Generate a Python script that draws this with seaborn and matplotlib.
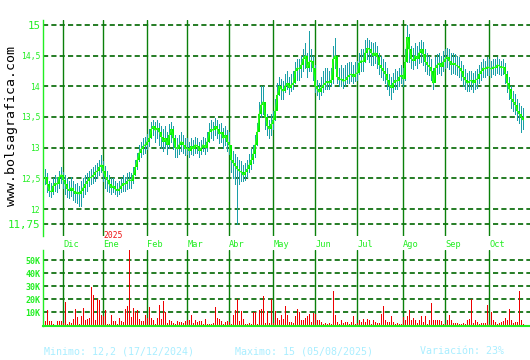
import matplotlib
matplotlib.use("Agg")
import matplotlib.pyplot as plt
import matplotlib.transforms as mtransforms
import seaborn as sns
import numpy as np
import pandas as pd

sns.set_theme(style="white")
plt.rcParams['font.family'] = ['DejaVu Sans Mono', 'DejaVu Sans']

# ---------------- data ----------------
close = [
    12.52, 12.40, 12.30, 12.28, 12.38, 12.42, 12.40, 12.52, 12.56, 12.48,
    12.40, 12.33, 12.30, 12.35, 12.30, 12.25, 12.28, 12.24, 12.30, 12.35,
    12.40, 12.45, 12.50, 12.52, 12.55, 12.60, 12.62, 12.68, 12.72, 12.62,
    12.52, 12.48, 12.40, 12.35, 12.38, 12.32, 12.30, 12.33, 12.38, 12.42,
    12.40, 12.45, 12.48, 12.46, 12.55, 12.68, 12.80, 12.92, 12.98, 13.02,
    13.05, 13.10, 13.15, 13.30, 13.35, 13.28, 13.32, 13.25, 13.18, 13.10,
    13.15, 13.05, 13.20, 13.30, 13.15, 13.00, 12.98, 13.05, 13.10, 13.05,
    12.98, 13.00, 12.95, 13.02, 12.98, 13.05, 13.02, 12.95, 13.00, 13.05,
    13.00, 13.10, 13.25, 13.30, 13.28, 13.35, 13.30, 13.22, 13.25, 13.15,
    13.20, 13.10, 13.05, 12.80, 12.75, 12.70, 12.65, 12.62, 12.60, 12.55,
    12.60, 12.65, 12.72, 12.80, 12.90, 13.05, 13.25, 13.55, 13.70, 13.75,
    13.50, 13.35, 13.30, 13.38, 13.45, 13.60, 13.85, 14.00, 13.95, 13.92,
    14.00, 14.05, 13.98, 14.02, 14.05, 14.25, 14.30, 14.28, 14.35, 14.45,
    14.50, 14.30, 14.40, 14.42, 14.30, 14.00, 13.95, 13.90, 13.98, 14.02,
    14.05, 14.08, 14.05, 14.10, 14.45, 14.50, 14.15, 14.10, 14.12, 14.08,
    14.10, 14.15, 14.18, 14.20, 14.15, 14.20, 14.22, 14.38, 14.42, 14.40,
    14.55, 14.62, 14.60, 14.55, 14.50, 14.55, 14.48, 14.35, 14.30, 14.25,
    14.20, 14.10, 14.02, 13.98, 14.05, 14.10, 14.08, 14.15, 14.18, 14.12,
    14.40, 14.80, 14.60, 14.45, 14.42, 14.50, 14.45, 14.55, 14.60, 14.52,
    14.40, 14.35, 14.32, 14.25, 14.05, 14.30, 14.35, 14.38, 14.32, 14.40,
    14.45, 14.48, 14.42, 14.35, 14.38, 14.35, 14.33, 14.30, 14.25, 14.15,
    14.10, 14.05, 14.08, 14.10, 14.05, 14.10, 14.12, 14.20, 14.25, 14.30,
    14.28, 14.32, 14.30, 14.28, 14.32, 14.30, 14.35, 14.33, 14.30, 14.32,
    14.20, 14.05, 13.95, 13.80, 13.75, 13.70, 13.60, 13.55, 13.50, 13.45,
]
high = [
    12.65, 12.58, 12.45, 12.42, 12.50, 12.55, 12.52, 12.62, 12.68, 12.60,
    12.55, 12.50, 12.45, 12.52, 12.45, 12.40, 12.42, 12.38, 12.45, 12.50,
    12.55, 12.58, 12.62, 12.65, 12.68, 12.72, 12.75, 12.80, 12.88, 12.78,
    12.70, 12.62, 12.55, 12.50, 12.50, 12.45, 12.42, 12.45, 12.50, 12.55,
    12.52, 12.58, 12.60, 12.58, 12.68, 12.80, 12.92, 13.05, 13.10, 13.15,
    13.18, 13.22, 13.30, 13.42, 13.45, 13.42, 13.45, 13.40, 13.35, 13.30,
    13.35, 13.25, 13.38, 13.42, 13.35, 13.20, 13.15, 13.20, 13.25, 13.20,
    13.15, 13.15, 13.10, 13.15, 13.12, 13.18, 13.15, 13.10, 13.12, 13.18,
    13.15, 13.25, 13.40, 13.45, 13.42, 13.48, 13.45, 13.38, 13.40, 13.32,
    13.35, 13.28, 13.25, 13.05, 12.95, 12.90, 12.85, 12.80, 12.78, 12.72,
    12.75, 12.80, 12.90, 12.98, 13.05, 13.20, 13.40, 13.75, 14.00, 14.00,
    13.75, 13.55, 13.45, 13.55, 13.60, 13.80, 14.05, 14.15, 14.12, 14.08,
    14.20, 14.25, 14.15, 14.20, 14.25, 14.40, 14.45, 14.45, 14.50, 14.60,
    14.70, 14.55, 14.90, 14.60, 14.50, 14.35, 14.10, 14.05, 14.15, 14.25,
    14.30, 14.30, 14.25, 14.30, 14.65, 14.78, 14.40, 14.30, 14.35, 14.30,
    14.35, 14.38, 14.40, 14.40, 14.35, 14.40, 14.42, 14.55, 14.60, 14.60,
    14.75, 14.78, 14.75, 14.72, 14.70, 14.72, 14.65, 14.55, 14.50, 14.45,
    14.40, 14.30, 14.20, 14.15, 14.22, 14.28, 14.25, 14.30, 14.35, 14.30,
    14.60, 15.00, 14.85, 14.65, 14.62, 14.70, 14.65, 14.72, 14.75, 14.72,
    14.60, 14.55, 14.50, 14.45, 14.30, 14.48, 14.52, 14.55, 14.50, 14.58,
    14.60, 14.62, 14.60, 14.55, 14.55, 14.52, 14.50, 14.48, 14.42, 14.35,
    14.28, 14.22, 14.25, 14.25, 14.22, 14.25, 14.28, 14.35, 14.40, 14.45,
    14.42, 14.48, 14.45, 14.42, 14.45, 14.45, 14.48, 14.45, 14.42, 14.45,
    14.38, 14.25, 14.15, 14.00, 13.92, 13.88, 13.80, 13.72, 13.68, 13.65,
]
low = [
    12.40, 12.28, 12.22, 12.20, 12.25, 12.30, 12.28, 12.35, 12.42, 12.35,
    12.25, 12.20, 12.18, 12.22, 12.15, 12.12, 12.10, 12.05, 12.05, 12.20,
    12.25, 12.30, 12.38, 12.40, 12.42, 12.45, 12.50, 12.55, 12.60, 12.45,
    12.35, 12.30, 12.28, 12.25, 12.28, 12.25, 12.22, 12.25, 12.28, 12.30,
    12.30, 12.32, 12.35, 12.35, 12.42, 12.55, 12.65, 12.78, 12.85, 12.90,
    12.92, 12.98, 13.02, 13.15, 13.20, 13.10, 13.15, 13.05, 13.00, 12.95,
    13.00, 12.90, 13.00, 13.10, 12.98, 12.85, 12.85, 12.90, 12.95, 12.92,
    12.88, 12.90, 12.85, 12.90, 12.88, 12.92, 12.92, 12.85, 12.90, 12.95,
    12.90, 12.95, 13.10, 13.15, 13.12, 13.20, 13.15, 13.08, 13.10, 13.00,
    13.05, 12.95, 12.90, 12.60, 12.50, 12.40, 11.75, 12.40, 12.45, 12.45,
    12.48, 12.52, 12.60, 12.65, 12.75, 12.85, 13.05, 13.30, 13.50, 13.55,
    13.30, 13.20, 13.15, 13.20, 13.30, 13.45, 13.70, 13.85, 13.80, 13.80,
    13.90, 13.95, 13.88, 13.92, 13.95, 14.05, 14.10, 14.10, 14.15, 14.25,
    14.30, 14.15, 14.25, 14.25, 14.10, 13.90, 13.85, 13.80, 13.85, 13.90,
    13.95, 13.95, 13.95, 14.00, 14.05, 14.30, 14.05, 14.00, 14.00, 13.98,
    14.00, 14.05, 14.05, 14.08, 14.05, 14.08, 14.10, 14.20, 14.25, 14.25,
    14.40, 14.45, 14.40, 14.35, 14.35, 14.38, 14.30, 14.20, 14.15, 14.10,
    14.05, 13.95, 13.85, 13.80, 13.90, 13.95, 13.95, 14.00, 14.05, 14.00,
    14.10, 14.40, 14.40, 14.30, 14.28, 14.35, 14.30, 14.38, 14.40, 14.35,
    14.25, 14.20, 14.18, 14.10, 13.95, 14.10, 14.20, 14.22, 14.18, 14.25,
    14.30, 14.32, 14.28, 14.20, 14.22, 14.20, 14.18, 14.15, 14.10, 14.00,
    13.95, 13.92, 13.92, 13.95, 13.90, 13.95, 13.98, 14.05, 14.10, 14.15,
    14.15, 14.18, 14.18, 14.15, 14.20, 14.18, 14.22, 14.20, 14.18, 14.20,
    14.05, 13.90, 13.80, 13.65, 13.60, 13.55, 13.45, 13.40, 13.25, 13.30,
]
volume_k = [
    3.3, 11.8, 3.3, 3.3, 1.5, 0.5, 3.3, 3.3, 3.3, 2.0,
    18.0, 1.5, 3.0, 2.0, 5.0, 12.8, 6.5, 1.5, 7.0, 13.5,
    4.0, 5.0, 5.5, 29.5, 23.5, 4.0, 20.5, 19.5, 8.0, 7.0,
    12.0, 1.5, 1.5, 8.0, 3.3, 3.3, 1.0, 5.5, 3.5, 3.0,
    12.8, 15.0, 58.0, 6.5, 13.5, 10.0, 12.0, 5.0, 3.5, 3.5,
    8.0, 5.5, 14.0, 5.5, 4.0, 1.5, 5.5, 16.0, 5.0, 19.0,
    10.0, 2.0, 4.0, 3.5, 2.0, 1.0, 3.3, 3.0, 3.0, 2.0,
    3.3, 4.0, 4.0, 8.0, 2.0, 4.0, 3.0, 3.3, 3.3, 1.5,
    5.0, 1.5, 1.5, 1.0, 2.0, 14.5, 5.5, 5.0, 3.5, 1.0,
    3.0, 3.3, 3.0, 1.5, 8.0, 12.0, 20.0, 3.5, 11.0, 5.0,
    1.5, 1.5, 2.0, 1.0, 10.0, 10.0, 1.0, 12.0, 12.5, 22.5,
    2.0, 11.5, 2.0, 20.0, 2.0, 11.0, 6.0, 4.0, 8.0, 5.0,
    15.0, 8.0, 3.0, 3.0, 2.0, 7.0, 12.5, 10.0, 4.0, 4.0,
    6.0, 7.5, 9.0, 3.0, 9.5, 8.5, 4.0, 4.0, 2.5, 1.5,
    2.0, 1.5, 2.0, 1.5, 26.5, 8.0, 3.0, 1.5, 4.0, 2.0,
    3.0, 2.5, 1.5, 3.0, 7.0, 1.5, 2.0, 4.0, 3.0, 5.0,
    3.0, 5.0, 4.0, 1.5, 4.0, 3.0, 2.0, 2.0, 9.0, 15.0,
    4.0, 2.5, 3.0, 7.0, 3.0, 1.5, 2.0, 1.5, 1.0, 6.5,
    4.5, 7.5, 12.0, 4.0, 6.0, 4.0, 2.0, 4.0, 7.0, 3.0,
    7.0, 1.0, 4.0, 17.5, 4.5, 4.5, 4.5, 4.0, 3.5, 1.5,
    1.0, 4.5, 8.0, 4.0, 2.0, 2.0, 2.0, 1.5, 1.5, 2.0,
    1.5, 4.0, 5.0, 20.0, 2.0, 4.0, 3.0, 1.5, 2.0, 2.0,
    2.0, 15.5, 1.5, 10.0, 4.5, 3.0, 1.5, 2.0, 3.0, 3.5,
    6.0, 4.0, 12.5, 4.0, 2.0, 3.0, 3.0, 26.5, 4.0, 1.5,
]
month_labels = ["Dic", "Ene", "Feb", "Mar", "Abr", "May",
                "Jun", "Jul", "Ago", "Sep", "Oct"]
month_pos = [9, 29, 51, 71, 92, 114, 135, 156, 179, 200, 222]
price_ticks = [11.75, 12, 12.5, 13, 13.5, 14, 14.5, 15]
price_tick_labels = ["11,75", "12", "12,5", "13", "13,5", "14", "14,5", "15"]
vol_ticks = [10, 20, 30, 40, 50]
vol_tick_labels = ["10K", "20K", "30K", "40K", "50K"]
year_label = "2025"
min_text = "Minimo: 12,2 (17/12/2024)"
max_text = "Maximo: 15 (05/08/2025)"
var_text = "Variación: 23%"
watermark = "www.bolsagrafica.com"

# ---------------- derived frame ----------------
df = pd.DataFrame({"close": close, "high": high, "low": low, "vol": volume_k})
df["idx"] = np.arange(len(df))
df["open"] = df["close"].shift(1).fillna(df["close"].iloc[0])

# ---------------- colours ----------------
BRIGHT = "#22ee22"
HGRID = "#006600"
VGRID = "#0a800a"
WICK = "#1a9fa8"
BODY = "#00ee00"
CLOSE_C = "#33ff22"
VOLC = "#ee0000"
TXT2 = "#aaeeff"

W, H = 530, 360
fig = plt.figure(figsize=(W / 100, H / 100), dpi=100)
fig.patch.set_facecolor("white")

xl = ((43 - 45.3) / 2, (530 - 45.3) / 2)

# main price axes
ax = fig.add_axes([43 / W, 1 - 236 / H, (W - 43) / W, 216 / H])
ax.set_facecolor("white")
ax.set_xlim(*xl)
ax.set_ylim(11.56, 15.08)

for p in price_ticks:
    ax.axhline(p, color=HGRID, lw=1.2, linestyle=(0, (3.1, 1.9)), zorder=1)
for m in month_pos:
    ax.axvline(m, color=VGRID, lw=1.0, zorder=1)

ax.vlines(df["idx"], df["low"], df["high"], color=WICK, lw=0.6,
          antialiased=False, zorder=2)
ax.bar(df["idx"], df["close"] - df["open"], bottom=df["open"], width=0.9,
       color=BODY, linewidth=0, antialiased=False, zorder=3)
sns.lineplot(data=df, x="idx", y="close", ax=ax, color=CLOSE_C, lw=0.75,
             zorder=4, legend=False)

ax.set_xlabel("")
ax.set_ylabel("")
ax.set_yticks(price_ticks)
ax.set_yticklabels(price_tick_labels)
for lab, t in zip(ax.get_yticklabels(), price_ticks):
    lab.set_color(BRIGHT)
    lab.set_fontsize(7.8 if t in (15, 11.75) else 5.8)
ax.tick_params(axis="y", length=0, pad=2)
ax.set_xticks(month_pos)
ax.set_xticklabels(month_labels)
for lab in ax.get_xticklabels():
    lab.set_color(BRIGHT)
    lab.set_fontsize(6.2)
    lab.set_horizontalalignment("left")
ax.tick_params(axis="x", length=0, pad=3)
for s in ["top", "right", "bottom"]:
    ax.spines[s].set_visible(False)
ax.spines["left"].set_color(BRIGHT)
ax.spines["left"].set_linewidth(1.0)

trans = mtransforms.blended_transform_factory(ax.transData, ax.transAxes)
ax.text(month_pos[1], 0.0, year_label, transform=trans, color="#ee1111",
        fontsize=5.8, ha="left", va="center")

# volume axes
axv = fig.add_axes([43 / W, 1 - 325.5 / H, (W - 43) / W, 75.5 / H])
axv.set_facecolor("white")
axv.set_xlim(*xl)
axv.set_ylim(0, 57.9)
for v in vol_ticks:
    axv.axhline(v, color=HGRID, lw=1.2, linestyle=(0, (3.1, 1.9)), zorder=1)
for m in month_pos:
    axv.axvline(m, color=VGRID, lw=1.0, zorder=1)
axv.vlines(df["idx"], 0, df["vol"], color=VOLC, lw=0.72,
           antialiased=False, zorder=2)
axv.set_xticks([])
axv.set_yticks(vol_ticks)
axv.set_yticklabels(vol_tick_labels)
for lab in axv.get_yticklabels():
    lab.set_color(BRIGHT)
    lab.set_fontsize(6.0)
    lab.set_fontweight("bold")
axv.tick_params(axis="y", length=0, pad=2)
for s in ["top", "right"]:
    axv.spines[s].set_visible(False)
axv.spines["left"].set_color(BRIGHT)
axv.spines["left"].set_linewidth(1.0)
axv.spines["bottom"].set_color(BRIGHT)
axv.spines["bottom"].set_linewidth(1.5)
axv.spines["bottom"].set_zorder(3)

# texts
fig.text(44 / W, 1 - 351 / H, min_text, color=TXT2, fontsize=7.2,
         ha="left", va="center")
fig.text(235 / W, 1 - 351 / H, max_text, color=TXT2, fontsize=7.2,
         ha="left", va="center")
fig.text(420 / W, 1 - 351 / H, var_text, color=TXT2, fontsize=7.2,
         ha="left", va="center")
fig.text(12 / W, 1 - 126 / H, watermark, color="black", fontsize=9.5,
         rotation=90, ha="center", va="center")

fig.savefig("out.png", dpi=100, facecolor="white")
